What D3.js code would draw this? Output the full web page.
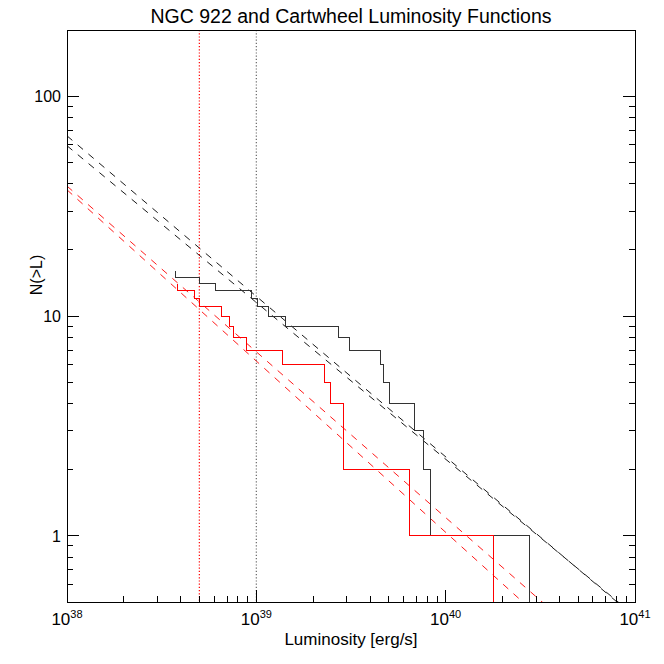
<!DOCTYPE html>
<html>
<head>
<meta charset="utf-8">
<script src="https://cdn.jsdelivr.net/npm/d3@7"></script>
<style>
  body { margin: 0; background: #fff; }
  text { font-family: "Liberation Sans", Arial, Helvetica, sans-serif; fill: #000; }
</style>
</head>
<body>
<svg id="chart"></svg>
<script>
// luminosities (erg/s) of the sources
var cartwheelLum = [3.72e38, 5.0e38, 6.1e38, 9.4e38, 1.02e39, 1.16e39, 1.42e39, 2.71e39,
                    3.10e39, 4.50e39, 4.69e39, 5.04e39, 6.81e39, 7.62e39, 8.34e39, 2.76e40];
var ngc922Lum = [3.84e38, 4.70e38, 5.04e38, 6.51e38, 7.24e38, 7.56e38, 8.82e38, 1.37e39,
                 2.29e39, 2.46e39, 2.88e39, 2.88e39, 6.43e39, 1.79e40];

// power law fits N(>L) = norm * (L / 1e38)^-slope
var fitGalaxy = ["Cartwheel", "Cartwheel", "NGC 922", "NGC 922"];
var fitNorm = [66, 59.5, 39, 37.5];
var fitSlope = [0.73, 0.713, 0.754, 0.779];

// completeness limits
var limitGalaxy = ["NGC 922", "Cartwheel"];
var limitLum = [5e38, 1e39];

var xTickLabels = [38, 39, 40, 41];
var yTickValues = [1, 10, 100];

var colorOf = { "Cartwheel": "#000", "NGC 922": "#ff0000" };

var width = 664, height = 664;
// plot box (window.top is reserved, so no plain "top")
var boxL = 67, boxR = 635, boxT = 30, boxB = 602;

var svg = d3.select("svg#chart")
            .attr("width", width)
            .attr("height", height);

var x = d3.scaleLog().domain([1e38, 1e41]).range([boxL, boxR]);
var y = d3.scaleLog().domain([0.5, 200]).range([boxB, boxT]);

svg.append("clipPath").attr("id", "plotclip")
   .append("rect")
   .attr("x", boxL).attr("y", boxT)
   .attr("width", boxR - boxL).attr("height", boxB - boxT);

var plot = svg.append("g").attr("clip-path", "url(#plotclip)");

// fit lines
var line = d3.line().x(function(d) { return x(d[0]); }).y(function(d) { return y(d[1]); });
for (let i = 0; i < fitNorm.length; i++) {
	var ends = x.domain().map(function(l) {
		return [l, fitNorm[i] * Math.pow(l / 1e38, -fitSlope[i])];
	});
	plot.append("path")
		.attr("d", line(ends))
		.attr("fill", "none")
		.attr("stroke", colorOf[fitGalaxy[i]])
		.attr("stroke-width", 0.9)
		.attr("stroke-dasharray", "7,7");
}

// vertical dotted limits
for (let i = 0; i < limitLum.length; i++) {
	plot.append("line")
		.attr("x1", x(limitLum[i])).attr("x2", x(limitLum[i]))
		.attr("y1", boxT).attr("y2", boxB)
		.attr("stroke", colorOf[limitGalaxy[i]])
		.attr("stroke-opacity", i === 0 ? 1 : 0.6)
		.attr("stroke-width", 1.2)
		.attr("stroke-dasharray", "1.2,2");
}

// cumulative step functions
function stepPoints(lums) {
	var pts = [];
	var n = lums.length;
	lums.forEach(function(l, i) {
		pts.push([l, n - i]);
		pts.push([l, Math.max(n - i - 1, 0.1)]);
	});
	return pts;
}

plot.append("path")
	.attr("d", line(stepPoints(cartwheelLum)))
	.attr("fill", "none")
	.attr("stroke", "#333")
	.attr("stroke-width", 1)
	.attr("shape-rendering", "crispEdges");

plot.append("path")
	.attr("d", line(stepPoints(ngc922Lum)))
	.attr("fill", "none")
	.attr("stroke", colorOf["NGC 922"])
	.attr("stroke-width", 1)
	.attr("shape-rendering", "crispEdges");

// frame
svg.append("rect")
   .attr("x", boxL).attr("y", boxT)
   .attr("width", boxR - boxL).attr("height", boxB - boxT)
   .attr("fill", "none")
   .attr("stroke", "#000")
   .attr("stroke-width", 1)
   .attr("shape-rendering", "crispEdges");

// ticks on bottom, left and right
var axes = svg.append("g")
              .attr("stroke", "#000")
              .attr("stroke-width", 1)
              .attr("shape-rendering", "crispEdges");

function logTicks(lo, hi) {
	var out = [];
	for (let e = Math.floor(Math.log10(lo)); e <= Math.ceil(Math.log10(hi)); e++) {
		for (let m = 1; m <= 9; m++) {
			var v = m * Math.pow(10, e);
			if (v >= lo * 0.999 && v <= hi * 1.001) out.push({ v: v, major: m === 1 });
		}
	}
	return out;
}

logTicks(1e38, 1e41).forEach(function(t) {
	var len = t.major ? 12 : 6;
	var px = x(t.v);
	axes.append("line").attr("x1", px).attr("x2", px).attr("y1", boxB).attr("y2", boxB - len);
});

logTicks(0.5, 200).forEach(function(t) {
	var len = t.major ? 12 : 6;
	var py = y(t.v);
	axes.append("line").attr("x1", boxL).attr("x2", boxL + len).attr("y1", py).attr("y2", py);
	axes.append("line").attr("x1", boxR).attr("x2", boxR - len).attr("y1", py).attr("y2", py);
});

// tick labels
xTickLabels.forEach(function(e) {
	var t = svg.append("text")
		.attr("x", x(Math.pow(10, e)))
		.attr("y", boxB + 23)
		.attr("text-anchor", "middle")
		.style("font-size", "17px");
	t.append("tspan").text("10");
	t.append("tspan").text(e).attr("dy", -7).style("font-size", "11px");
});

yTickValues.forEach(function(v) {
	svg.append("text")
		.text(v)
		.attr("x", boxL - 6)
		.attr("y", y(v) + 6)
		.attr("text-anchor", "end")
		.style("font-size", "16px");
});

// titles
svg.append("text")
   .text("NGC 922 and Cartwheel Luminosity Functions")
   .attr("x", (boxL + boxR) / 2)
   .attr("y", 23)
   .attr("text-anchor", "middle")
   .style("font-size", "19.5px");

svg.append("text")
   .text("Luminosity [erg/s]")
   .attr("x", (boxL + boxR) / 2)
   .attr("y", 645)
   .attr("text-anchor", "middle")
   .style("font-size", "17px");

svg.append("text")
   .text("N(>L)")
   .attr("transform", "translate(42," + 275 + ") rotate(-90)")
   .attr("text-anchor", "middle")
   .style("font-size", "16px");
</script>
</body>
</html>
